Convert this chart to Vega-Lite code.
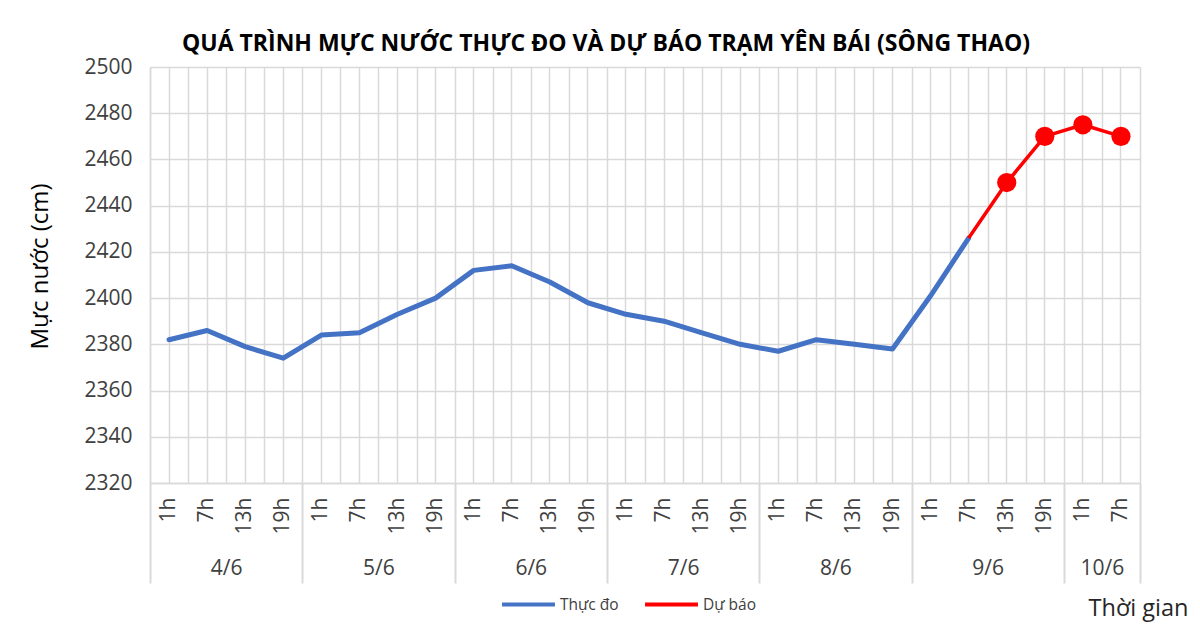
{
  "$schema": "https://vega.github.io/schema/vega-lite/v6.json",
  "width": 990,
  "height": 416,
  "autosize": {"type": "none"},
  "padding": {"left": 150, "top": 67, "right": 60, "bottom": 143},
  "background": "white",
  "config": {
    "font": "Open Sans",
    "view": {"stroke": null},
    "axis": {"labelFont": "Open Sans", "titleFont": "Open Sans", "labelColor": "#404040"}
  },
  "title": {
    "text": "QUÁ TRÌNH MỰC NƯỚC THỰC ĐO VÀ DỰ BÁO TRẠM YÊN BÁI (SÔNG THAO)",
    "font": "Open Sans",
    "fontSize": 23,
    "fontWeight": "bold",
    "color": "#000000",
    "anchor": "middle",
    "dx": -39,
    "offset": 0
  },
  "data": {
    "values": [
      {"key": "4/6 1h", "day": "4/6", "hour": "1h", "level": 2382, "series": "Thực đo"},
      {"key": "4/6 7h", "day": "4/6", "hour": "7h", "level": 2386, "series": "Thực đo"},
      {"key": "4/6 13h", "day": "4/6", "hour": "13h", "level": 2379, "series": "Thực đo"},
      {"key": "4/6 19h", "day": "4/6", "hour": "19h", "level": 2374, "series": "Thực đo"},
      {"key": "5/6 1h", "day": "5/6", "hour": "1h", "level": 2384, "series": "Thực đo"},
      {"key": "5/6 7h", "day": "5/6", "hour": "7h", "level": 2385, "series": "Thực đo"},
      {"key": "5/6 13h", "day": "5/6", "hour": "13h", "level": 2393, "series": "Thực đo"},
      {"key": "5/6 19h", "day": "5/6", "hour": "19h", "level": 2400, "series": "Thực đo"},
      {"key": "6/6 1h", "day": "6/6", "hour": "1h", "level": 2412, "series": "Thực đo"},
      {"key": "6/6 7h", "day": "6/6", "hour": "7h", "level": 2414, "series": "Thực đo"},
      {"key": "6/6 13h", "day": "6/6", "hour": "13h", "level": 2407, "series": "Thực đo"},
      {"key": "6/6 19h", "day": "6/6", "hour": "19h", "level": 2398, "series": "Thực đo"},
      {"key": "7/6 1h", "day": "7/6", "hour": "1h", "level": 2393, "series": "Thực đo"},
      {"key": "7/6 7h", "day": "7/6", "hour": "7h", "level": 2390, "series": "Thực đo"},
      {"key": "7/6 13h", "day": "7/6", "hour": "13h", "level": 2385, "series": "Thực đo"},
      {"key": "7/6 19h", "day": "7/6", "hour": "19h", "level": 2380, "series": "Thực đo"},
      {"key": "8/6 1h", "day": "8/6", "hour": "1h", "level": 2377, "series": "Thực đo"},
      {"key": "8/6 7h", "day": "8/6", "hour": "7h", "level": 2382, "series": "Thực đo"},
      {"key": "8/6 13h", "day": "8/6", "hour": "13h", "level": 2380, "series": "Thực đo"},
      {"key": "8/6 19h", "day": "8/6", "hour": "19h", "level": 2378, "series": "Thực đo"},
      {"key": "9/6 1h", "day": "9/6", "hour": "1h", "level": 2401, "series": "Thực đo"},
      {"key": "9/6 7h", "day": "9/6", "hour": "7h", "level": 2426, "series": "Thực đo"},
      {"key": "9/6 7h", "day": "9/6", "hour": "7h", "level": 2426, "series": "Dự báo"},
      {"key": "9/6 13h", "day": "9/6", "hour": "13h", "level": 2450, "series": "Dự báo"},
      {"key": "9/6 19h", "day": "9/6", "hour": "19h", "level": 2470, "series": "Dự báo"},
      {"key": "10/6 1h", "day": "10/6", "hour": "1h", "level": 2475, "series": "Dự báo"},
      {"key": "10/6 7h", "day": "10/6", "hour": "7h", "level": 2470, "series": "Dự báo"}
    ]
  },
  "encoding": {
    "y": {
      "field": "level",
      "type": "quantitative",
      "scale": {"domain": [2320, 2500], "nice": false, "zero": false},
      "axis": {
        "values": [2320, 2340, 2360, 2380, 2400, 2420, 2440, 2460, 2480, 2500],
        "format": "d",
        "title": "Mực nước (cm)",
        "titleFontSize": 24,
        "titleFontWeight": "normal",
        "titleColor": "#000000",
        "titlePadding": 31,
        "titleY": 199,
        "labelFontSize": 21,
        "labelPadding": 18,
        "ticks": false,
        "tickSize": 0,
        "domainColor": "#d9d9d9",
        "domainWidth": 1.5,
        "gridColor": "#d9d9d9",
        "gridWidth": 1.5
      }
    },
    "color": {
      "field": "series",
      "type": "nominal",
      "scale": {"domain": ["Thực đo", "Dự báo"], "range": ["#4472C4", "#FF0000"]},
      "legend": {
        "title": null,
        "orient": "none",
        "legendX": 350,
        "legendY": 509,
        "direction": "horizontal",
        "symbolType": "stroke",
        "symbolStrokeWidth": 4,
        "symbolSize": 2800,
        "labelFontSize": 15.5,
        "labelColor": "#404040",
        "labelFont": "Open Sans",
        "columnPadding": 18,
        "labelOffset": 3
      }
    }
  },
  "layer": [
    {
      "transform": [{"filter": "datum.series == 'Thực đo'"}],
      "mark": {"type": "line", "strokeWidth": 5, "strokeJoin": "round", "strokeCap": "round"},
      "encoding": {
        "x": {
          "field": "key",
          "type": "ordinal",
          "scale": {
            "domain": ["4/6 1h", "4/6 7h", "4/6 13h", "4/6 19h", "5/6 1h", "5/6 7h", "5/6 13h", "5/6 19h", "6/6 1h", "6/6 7h", "6/6 13h", "6/6 19h", "7/6 1h", "7/6 7h", "7/6 13h", "7/6 19h", "8/6 1h", "8/6 7h", "8/6 13h", "8/6 19h", "9/6 1h", "9/6 7h", "9/6 13h", "9/6 19h", "10/6 1h", "10/6 7h"],
            "paddingInner": 0,
            "paddingOuter": 0
          },
          "axis": {
            "orient": "bottom",
            "labelExpr": "split(datum.value, ' ')[1]",
            "labelAngle": 270,
            "labelFontSize": 21,
            "labelPadding": 14,
            "labelOverlap": false,
            "ticks": false,
            "tickSize": 0,
            "tickBand": "center",
            "grid": true,
            "gridColor": "#d9d9d9",
            "gridWidth": 1.5,
            "domain": true,
            "domainColor": "#d9d9d9",
            "domainWidth": 1.5,
            "title": "Thời gian",
            "titleFontSize": 23.5,
            "titleFontWeight": "normal",
            "titleColor": "#262626",
            "titleAnchor": "end",
            "titleAlign": "right",
            "titleBaseline": "middle",
            "titleX": 1038,
            "titleY": 125
          }
        }
      }
    },
    {
      "transform": [{"filter": "datum.series == 'Dự báo'"}],
      "mark": {"type": "line", "strokeWidth": 3.5, "strokeJoin": "round"},
      "encoding": {
        "x": {
          "field": "key",
          "type": "ordinal",
          "axis": {
            "orient": "bottom",
            "tickBand": "center",
            "tickOffset": -19.04,
            "grid": true,
            "gridColor": "#d9d9d9",
            "gridWidth": 1.5,
            "labels": false,
            "ticks": true,
            "tickSize": 100,
            "tickColor": "#d9d9d9",
            "tickWidth": 2,
            "tickOpacity": {"condition": {"test": "datum.value == '4/6 1h'", "value": 1}, "value": 0},
            "domain": false,
            "title": null
          }
        }
      }
    },
    {
      "transform": [{"filter": "datum.series == 'Dự báo' && datum.key != '9/6 7h'"}],
      "mark": {"type": "point", "filled": true, "opacity": 1, "size": 370},
      "encoding": {
        "x": {
          "field": "key",
          "type": "ordinal",
          "axis": {
            "orient": "bottom",
            "tickBand": "center",
            "tickOffset": 19.04,
            "grid": true,
            "gridColor": "#d9d9d9",
            "gridWidth": 1.5,
            "gridOpacity": {"condition": {"test": "datum.value == '10/6 7h'", "value": 1}, "value": 0},
            "domain": false,
            "ticks": true,
            "tickSize": 100,
            "tickColor": "#d9d9d9",
            "tickWidth": 2,
            "tickOpacity": {"condition": {"test": "split(datum.value, ' ')[1] == '19h' || datum.value == '10/6 7h'", "value": 1}, "value": 0},
            "labelExpr": "(split(datum.value, ' ')[1] == '7h' && split(datum.value, ' ')[0] != '10/6') || datum.value == '10/6 1h' ? split(datum.value, ' ')[0] : ''",
            "labelFontSize": 21,
            "labelPadding": -26,
            "labelOverlap": false,
            "labelAngle": 0,
            "title": null
          }
        }
      }
    }
  ],
  "resolve": {"axis": {"x": "independent"}}
}
